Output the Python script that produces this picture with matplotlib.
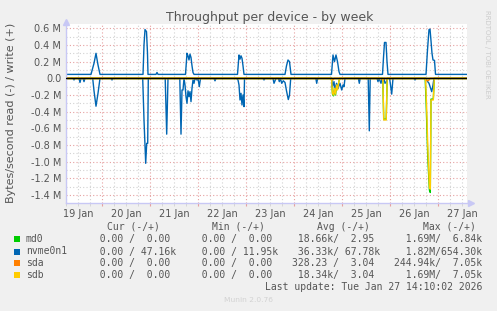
import matplotlib
matplotlib.use("Agg")
import matplotlib.pyplot as plt
from matplotlib.patches import Rectangle
from matplotlib.ticker import MultipleLocator, FuncFormatter

# time axis: hours since 19 Jan 00:00, values in kB/s
day_labels = ["19 Jan", "20 Jan", "21 Jan", "22 Jan", "23 Jan",
              "24 Jan", "25 Jan", "26 Jan", "27 Jan"]
noon_hours = [12, 36, 60, 84, 108, 132, 156, 180, 204]

nvme_write = [(6, 47), (18.5, 47), (20, 180), (21, 300), (22, 160), (23, 47),
              (44.5, 47), (45, 400), (45.5, 585), (46.25, 560), (46.75, 300), (47, 47),
              (51, 47), (51.5, 70), (52, 47),
              (65.75, 47), (66.5, 300), (67, 270), (67.5, 220), (68, 290), (68.5, 250),
              (69, 150), (69.5, 70), (70, 47),
              (91.75, 47), (92.5, 280), (93, 230), (93.5, 270), (94, 240), (94.5, 150), (95, 47),
              (115.5, 47), (116.25, 150), (117, 220), (117.75, 200), (118.5, 47),
              (138.75, 47), (139.5, 280), (140.25, 200), (141, 280), (141.75, 200),
              (142.5, 80), (143, 47),
              (164.25, 47), (164.75, 250), (165.25, 430), (166, 430), (166.5, 200), (167, 47),
              (186, 47), (186.75, 340), (187.5, 585), (188, 590), (188.5, 450), (189, 300),
              (189.5, 220), (190.25, 215), (190.75, 47), (206.5, 47)]

nvme_read = [(6, 0), (9.5, 0), (10, 20), (10.5, 0), (12.5, 0), (13, 50), (13.5, 0),
             (14.5, 0), (15, 40), (15.5, 0),
             (19.35, 0), (20, 150), (21, 335), (22, 180), (23, 0),
             (28.5, 0), (29, 20), (29.5, 0),
             (44.35, 0), (45, 500), (45.85, 1020), (46.35, 780), (46.85, 780), (47.15, 0),
             (55.6, 0), (56.35, 670), (57, 0),
             (62.9, 0), (63.5, 670), (64, 140), (64.5, 140), (65, 0), (65.5, 80), (66, 220),
             (66.5, 300), (67, 150), (67.5, 220), (68, 160), (68.5, 280), (69, 120),
             (69.5, 20), (70, 60), (70.5, 0), (71.5, 20), (72, 0), (72.65, 100), (73.25, 0),
             (80, 0), (80.5, 30), (81, 0),
             (91.35, 0), (92, 20), (92.5, 80), (93, 260), (93.5, 180), (94, 320),
             (94.5, 200), (95, 340), (95.25, 0),
             (104.5, 0), (105, 20), (105.5, 0),
             (109.5, 0), (110, 60), (110.5, 30), (111, 0), (112.2, 0), (112.65, 40),
             (113.2, 0), (113.85, 60), (114.65, 30), (115.5, 50), (116.25, 150),
             (117.15, 255), (117.75, 200), (118.35, 0),
             (130.9, 0), (131.35, 60), (131.8, 0),
             (138.75, 0), (139.25, 100), (140, 40), (140.5, 140), (141.25, 60), (142, 120),
             (143, 60), (143.85, 140), (144.5, 80), (145, 100), (145.5, 0),
             (152.2, 0), (152.65, 60), (153.1, 0),
             (157.1, 0), (157.65, 630), (158.1, 0),
             (161.5, 0), (162, 40), (162.5, 0), (163.5, 60), (164, 0), (164.5, 30), (165, 0),
             (165.5, 60), (166.25, 40), (166.8, 0), (167.8, 0), (168.25, 80), (168.85, 190),
             (169.5, 0),
             (180, 0), (180.5, 20), (181, 0),
             (186, 0), (186.5, 30), (187.5, 60), (188.85, 160), (189.5, 80), (190, 0),
             (206.5, 0)]

md0_read = [(6, 0), (138.75, 0), (139.25, 190), (139.75, 210), (140.25, 110), (140.75, 200),
            (141.25, 90), (141.75, 130), (142.5, 30), (143, 0),
            (164.4, 0), (164.85, 490), (166.1, 490), (166.6, 0),
            (185.6, 0), (186.1, 320), (186.9, 950), (187.7, 1340), (188.15, 1370),
            (188.5, 250), (189.65, 250), (190.15, 0), (206.5, 0)]

sda_read = [(6, 0), (139, 0), (139.5, 20), (140, 0), (163.9, 0), (164.4, 30), (164.9, 0),
            (185.5, 0), (186, 20), (186.75, 30), (187.5, 20), (188, 0), (206.5, 0)]

sdb_read = [(6, 0), (138.75, 0), (139.25, 180), (139.75, 200), (140.25, 120), (140.75, 190),
            (141.25, 80), (141.75, 140), (142.5, 30), (143, 0),
            (164.4, 0), (164.9, 500), (166.1, 500), (166.6, 0),
            (185.75, 0), (186.25, 300), (187, 900), (187.75, 1310), (188.15, 1330),
            (188.5, 260), (189.65, 260), (190.15, 0), (206.5, 0)]

flat_write = [(6, 0), (206.5, 0)]

devices = ["md0", "nvme0n1", "sda", "sdb"]
colors = ["#00cc00", "#0066b3", "#ff8000", "#ffcc00"]
reads = [md0_read, nvme_read, sda_read, sdb_read]
writes = [flat_write, nvme_write, flat_write, flat_write]

# legend numbers (read, write) in bytes/s
cur = [(0, 0), (0, 47160), (0, 0), (0, 0)]
mins = [(0, 0), (0, 11950), (0, 0), (0, 0)]
avgs = [(18660, 2.95), (36330, 67780), (328.23, 3.04), (18340, 3.04)]
maxs = [(1.69e6, 6840), (1.82e6, 654300), (244940, 7050), (1.69e6, 7050)]

W, H = 497, 311
def fx(px):
    return px / W
def fy(py):
    return 1 - py / H

fig = plt.figure(figsize=(W / 100, H / 100), dpi=100, facecolor="#f0f0f0")
ax = fig.add_axes([fx(66), fy(203), (467 - 66) / W, (203 - 24) / H], facecolor="white")

for name, col, rd, wr in zip(devices, colors, reads, writes):
    hx, hv = zip(*rd)
    ax.plot(hx, [-v * 1000 for v in hv], color=col, lw=1.0)
    hx, hv = zip(*wr)
    ax.plot(hx, [v * 1000 for v in hv], color=col, lw=1.0)

ax.axhline(0, color="black", lw=1.0, zorder=5)

ax.set_xlim(6, 206.5)
ax.set_ylim(-1.496e6, 0.6515e6)

ax.xaxis.set_major_locator(MultipleLocator(24))
ax.xaxis.set_minor_locator(MultipleLocator(6))
ax.yaxis.set_major_locator(MultipleLocator(0.2e6))
ax.yaxis.set_minor_locator(MultipleLocator(0.1e6))
ax.yaxis.set_major_formatter(FuncFormatter(
    lambda v, p: "0.0" if abs(v) < 1 else f"{v / 1e6:.1f} M"))
ax.set_xticklabels([])

dot = (0, (1, 2))
ax.grid(which="minor", color="#d2d2d2", linestyle=dot, lw=0.8)
ax.grid(which="major", color="#e6a0a0", linestyle=dot, lw=0.8)
ax.set_axisbelow(True)

ax.tick_params(axis="y", which="both", length=0, pad=3.5, labelsize=7, labelcolor="#555555")
ax.tick_params(axis="x", which="major", length=2, color="#e6a0a0")
ax.tick_params(axis="x", which="minor", length=2, color="#d2d2d2")

for s in ["top", "right"]:
    ax.spines[s].set_visible(False)
for s in ["left", "bottom"]:
    ax.spines[s].set_color("#c8c8f5")
    ax.spines[s].set_linewidth(1.0)
ax.plot([0], [1.01], marker="^", ms=4, color="#c8c8f5", transform=ax.transAxes, clip_on=False)
ax.plot([1.01], [0], marker=">", ms=4, color="#c8c8f5", transform=ax.transAxes, clip_on=False)

sec = ax.secondary_xaxis("bottom")
sec.set_xticks(noon_hours, labels=day_labels)
sec.tick_params(length=0, pad=4, labelsize=7, labelcolor="#555555")
sec.spines["bottom"].set_visible(False)

fig.text(fx(270), fy(18), "Throughput per device - by week", ha="center", va="center",
         fontsize=9, color="#555555")
fig.text(fx(11), fy(113), "Bytes/second read (-) / write (+)", rotation=90,
         ha="center", va="center", fontsize=8, color="#555555")
fig.text(fx(487), fy(54), "RRDTOOL / TOBI OETIKER", rotation=270, ha="center",
         va="center", fontsize=5, color="#cccccc")

def si(v):
    if v >= 1e6:
        return f"{v / 1e6:6.2f}M"
    if v >= 1e3:
        return f"{v / 1e3:6.2f}k"
    return f"{v:6.2f} "

mono = dict(family="DejaVu Sans Mono", fontsize=7, color="#555555", va="center")
col_x = [87.5, 189.5, 291.8, 394]
head_x = [107.3, 212.3, 317, 422.7]
for hx_, head in zip(head_x, ["Cur (-/+)", "Min (-/+)", "Avg (-/+)", "Max (-/+)"]):
    fig.text(fx(hx_), fy(226.7), head, **mono)

row_y = [239.3, 251.5, 263.4, 275.3]
for i, name in enumerate(devices):
    y = row_y[i]
    fig.add_artist(Rectangle((fx(14), fy(y + 3)), 6 / W, 6 / H, transform=fig.transFigure,
                             color=colors[i], lw=0))
    fig.text(fx(26), fy(y), name, **mono)
    for cx, vals in zip(col_x, [cur, mins, avgs, maxs]):
        r, w = vals[i]
        fig.text(fx(cx), fy(y), si(r) + "/" + si(w), **mono)

fig.text(fx(482.3), fy(287.3), "Last update: Tue Jan 27 14:10:02 2026",
         ha="right", **{k: v for k, v in mono.items()})
fig.text(fx(248), fy(299.5), "Munin 2.0.76", ha="center", va="center",
         fontsize=5.4, color="#d2d2d2")

fig.savefig("out.png", dpi=100, facecolor=fig.get_facecolor())
